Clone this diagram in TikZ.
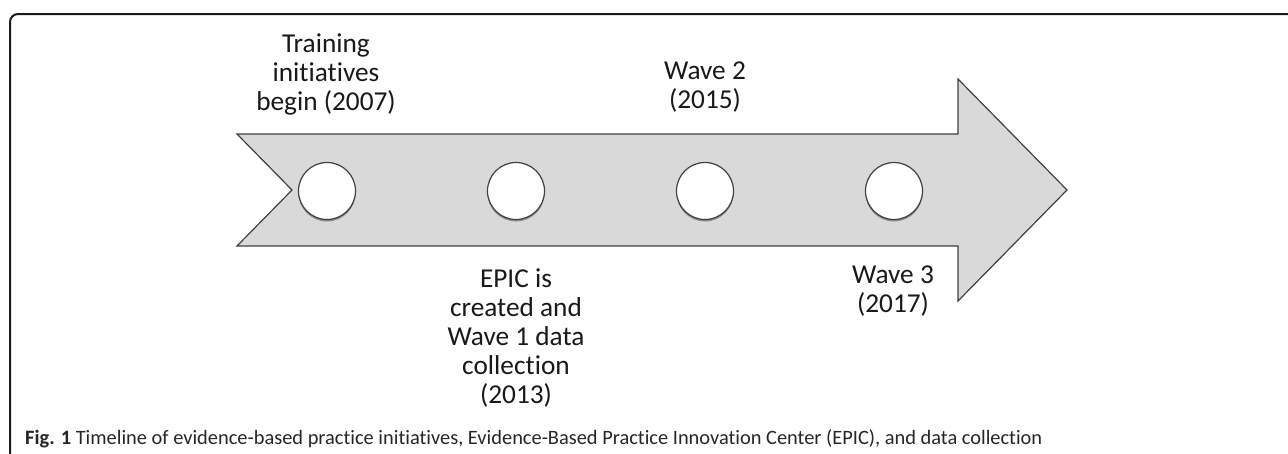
\documentclass[tikz,border=0pt]{standalone}
\usepackage{fontspec}
\setmainfont[Ligatures=NoCommon]{Carlito}
\usetikzlibrary{shadows}
\definecolor{arrowfill}{HTML}{D9D9D9}
\definecolor{edgegray}{HTML}{404040}
\begin{document}
\begin{tikzpicture}[x=1pt,y=-1pt,
  dot/.style={circle,draw=edgegray,line width=1.2pt,fill=white,minimum size=57pt,inner sep=0pt,
    drop shadow={shadow xshift=0pt,shadow yshift=-2pt,opacity=0.35,fill=black}},
  lbl/.style={align=center,anchor=base,inner sep=0pt,font=\fontsize{27.3}{29}\selectfont,text=black!90},
  frame/.style={line width=2pt,black!90}]
\useasboundingbox (0,0) rectangle (1288,453);
% frame
\draw[frame] (10,455) -- (10,22) arc[start angle=180,end angle=270,radius=8] -- (1290,14);
% arrow
\coordinate (a1) at (237,134);
\coordinate (a2) at (958,134);
\coordinate (a3) at (958,79);
\coordinate (tip) at (1067,190);
\coordinate (a5) at (958,301);
\coordinate (a6) at (958,246);
\coordinate (a7) at (237,246);
\coordinate (notch) at (292,190);
\draw[fill=arrowfill,draw=edgegray,line width=1.2pt,line join=miter]
  (a1) -- (a2) -- (a3) -- (tip) -- (a5) -- (a6) -- (a7) -- (notch) -- cycle;
% circles
\node[dot] (c1) at (327,191) {};
\node[dot] (c2) at (516,191) {};
\node[dot] (c3) at (705,191) {};
\node[dot] (c4) at (894,191) {};
% labels (base = last line)
\node[lbl] (l1) at (326,110) {Training\\initiatives\\begin (2007)};
\node[lbl] (l2) at (516,403) {EPIC is\\created and\\Wave 1 data\\collection\\(2013)};
\node[lbl] (l3) at (705,108) {Wave 2\\(2015)};
\node[lbl] (l4) at (893,312) {Wave 3\\(2017)};
% caption
\node[anchor=base west,inner sep=0pt,font=\fontsize{20.4}{22}\selectfont,text=black!85] (cap) at (25,444)
  {\textbf{Fig. 1} Timeline of evidence-based practice initiatives, Evidence-Based Practice Innovation Center (EPIC), and data collection};
\end{tikzpicture}
\end{document}
